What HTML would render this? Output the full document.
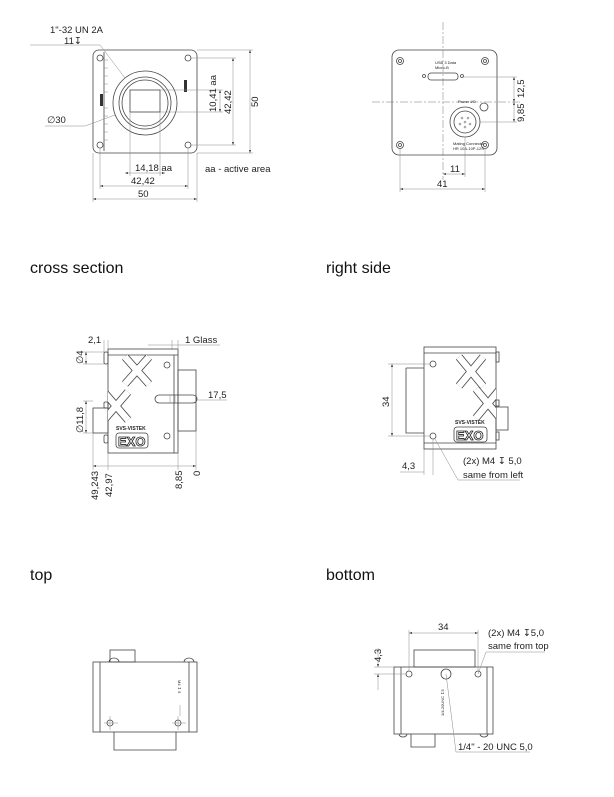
<!DOCTYPE html>
<html><head><meta charset="utf-8"><style>
html,body{margin:0;padding:0;background:#fff}
svg{display:block}
.l{stroke:#444;stroke-width:0.8;fill:none}
.t{stroke:#888;stroke-width:0.5;fill:none}
.c{stroke:#777;stroke-width:0.5;fill:none;stroke-dasharray:8 2 2 2}
.xo{stroke:#444;stroke-width:8;stroke-linecap:butt;fill:none}
.xi{stroke:#fff;stroke-width:6.4;stroke-linecap:butt;fill:none}
text{font-family:"Liberation Sans","DejaVu Sans",sans-serif;fill:#222}
.d{font-size:9.5px}
.h{font-size:16px;fill:#111}
.s{font-size:4px}
</style></head><body>
<svg width="614" height="797" viewBox="0 0 614 797" xmlns="http://www.w3.org/2000/svg">
<defs><marker id="a" viewBox="0 0 6 4" refX="6" refY="2" markerWidth="6" markerHeight="4" orient="auto-start-reverse"><path d="M0,0L6,2L0,4z" fill="#333"/></marker>
<clipPath id="cs"><rect x="108" y="355" width="66" height="98"/></clipPath>
<clipPath id="rs"><rect x="424" y="353" width="72" height="90"/></clipPath>
</defs>

<!-- FRONT -->
<rect class="l" x="93" y="50" width="104" height="103" rx="6"/>
<line class="l" x1="104" y1="52" x2="104" y2="151"/>
<g class="t"><line x1="104" y1="60" x2="108" y2="60"/><line x1="104" y1="68" x2="108" y2="68"/><line x1="104" y1="76" x2="108" y2="76"/><line x1="104" y1="84" x2="108" y2="84"/><line x1="104" y1="92" x2="108" y2="92"/><line x1="104" y1="108" x2="108" y2="108"/><line x1="104" y1="116" x2="108" y2="116"/><line x1="104" y1="124" x2="108" y2="124"/><line x1="104" y1="132" x2="108" y2="132"/><line x1="104" y1="140" x2="108" y2="140"/></g>
<rect x="100" y="94" width="3" height="12" fill="#333"/>
<rect x="184" y="80" width="3" height="12" fill="#333"/>
<circle class="l" cx="145" cy="103" r="32"/>
<circle class="l" cx="145" cy="103" r="26"/>
<circle class="l" cx="145" cy="103" r="23"/>
<rect class="l" x="130" y="90" width="30" height="22"/>
<g class="l"><circle cx="100" cy="58" r="3"/><circle cx="188" cy="58" r="3"/><circle cx="100" cy="145" r="3"/><circle cx="188" cy="145" r="3"/></g>
<g class="t">
<line x1="197" y1="50" x2="253" y2="50"/><line x1="197" y1="153" x2="253" y2="153"/>
<line x1="190" y1="58" x2="236" y2="58"/><line x1="190" y1="145" x2="236" y2="145"/>
<line x1="160" y1="90" x2="223" y2="90"/><line x1="160" y1="112" x2="223" y2="112"/>
<line x1="130" y1="112" x2="130" y2="176"/><line x1="160" y1="112" x2="160" y2="176"/>
<line x1="100" y1="148" x2="100" y2="189"/><line x1="188" y1="148" x2="188" y2="189"/>
<line x1="93" y1="153" x2="93" y2="202"/><line x1="197" y1="153" x2="197" y2="202"/>
<line x1="30" y1="45" x2="100" y2="45"/><line x1="100" y1="45" x2="125" y2="78"/>
<line x1="45" y1="126" x2="85" y2="126"/><line x1="85" y1="126" x2="115" y2="115"/>
</g>
<g class="t" marker-start="url(#a)" marker-end="url(#a)">
<line x1="250" y1="50" x2="250" y2="153"/><line x1="233" y1="58" x2="233" y2="145"/>
<line x1="220" y1="90" x2="220" y2="112"/>
<line x1="125" y1="173" x2="165" y2="173"/><line x1="100" y1="186" x2="188" y2="186"/><line x1="93" y1="199" x2="197" y2="199"/>
</g>
<text class="d" x="50" y="33">1"-32 UN 2A</text>
<text class="d" x="64" y="44">11↧</text>
<text class="d" x="47" y="123">∅30</text>
<text class="d" x="135" y="171">14,18 aa</text>
<text class="d" x="131" y="184">42,42</text>
<text class="d" x="138" y="197">50</text>
<text class="d" x="205" y="172">aa - active area</text>
<text class="d" transform="translate(216,112) rotate(-90)">10,41 aa</text>
<text class="d" transform="translate(231,114) rotate(-90)">42,42</text>
<text class="d" transform="translate(258,107) rotate(-90)">50</text>

<!-- REAR -->
<rect class="l" x="392" y="50" width="105" height="105" rx="7"/>
<line class="c" x1="443" y1="22" x2="443" y2="180"/>
<line class="c" x1="372" y1="102" x2="520" y2="102"/>
<g class="l"><circle cx="400" cy="61" r="3.5"/><circle cx="485" cy="61" r="3.5"/><circle cx="400" cy="145" r="3.5"/><circle cx="485" cy="145" r="3.5"/>
<circle cx="400" cy="61" r="1.5"/><circle cx="485" cy="61" r="1.5"/><circle cx="400" cy="145" r="1.5"/><circle cx="485" cy="145" r="1.5"/>
<rect x="428" y="73" width="30" height="7" rx="3"/><circle cx="424" cy="76" r="1.5"/><circle cx="462" cy="76" r="1.5"/>
<circle cx="465" cy="122" r="15"/><circle cx="465" cy="122" r="11"/><circle cx="484" cy="107" r="4"/></g>
<g fill="#aaa"><circle cx="462" cy="118" r="1.3"/><circle cx="468" cy="118" r="1.3"/><circle cx="460" cy="124" r="1.3"/><circle cx="465" cy="122" r="1.3"/><circle cx="470" cy="124" r="1.3"/><circle cx="465" cy="127" r="1.3"/></g>
<text class="s" x="435" y="64">USB 3 Data</text><text class="s" x="435" y="69">Micro-B</text>
<text class="s" x="458" y="103">Power I/O</text>
<text class="s" x="453" y="145">Mating Connector</text><text class="s" x="453" y="150">HR 10A-10P-12S</text>
<g class="t"><line x1="462" y1="77" x2="517" y2="77"/><line x1="480" y1="122" x2="517" y2="122"/>
<line x1="465" y1="137" x2="465" y2="177"/><line x1="400" y1="149" x2="400" y2="192"/><line x1="485" y1="149" x2="485" y2="192"/></g>
<g class="t" marker-start="url(#a)" marker-end="url(#a)">
<line x1="514" y1="77" x2="514" y2="102"/><line x1="514" y1="102" x2="514" y2="122"/>
<line x1="443" y1="174" x2="465" y2="174"/><line x1="400" y1="189" x2="485" y2="189"/></g>
<text class="d" x="450" y="172">11</text>
<text class="d" x="437" y="187">41</text>
<text class="d" transform="translate(524,98) rotate(-90)">12,5</text>
<text class="d" transform="translate(524,122) rotate(-90)">9,85</text>

<!-- titles -->
<text class="h" x="30" y="273">cross section</text>
<text class="h" x="326" y="273">right side</text>
<text class="h" x="30" y="580">top</text>
<text class="h" x="326" y="580">bottom</text>

<!-- CROSS SECTION -->
<rect class="l" x="108" y="349" width="70" height="104"/>
<line class="l" x1="108" y1="355" x2="178" y2="355"/>
<line class="l" x1="174" y1="355" x2="174" y2="453"/>
<rect class="l" x="93" y="408" width="15" height="25"/>
<rect class="l" x="104" y="352" width="4" height="12" rx="1.5"/>
<rect class="l" x="104" y="402" width="4" height="6" rx="1"/>
<rect class="l" x="104" y="435" width="4" height="8" rx="1.5"/>
<rect class="l" x="178" y="370" width="18" height="61"/>
<g clip-path="url(#cs)">
<path class="xo" d="M125,357 L149,384 M149,357 L125,384 M104,392 L128,420 M128,392 L104,420"/>
<path class="xi" d="M125,357 L149,384 M149,357 L125,384 M104,392 L128,420 M128,392 L104,420"/>
</g>
<rect class="l" x="155" y="395" width="42" height="8" rx="4"/>
<line class="t" x1="170" y1="395" x2="170" y2="403"/><line class="t" x1="175" y1="395" x2="175" y2="403"/>
<g class="l"><circle cx="167" cy="365" r="3"/><circle cx="167" cy="436" r="3"/></g>
<text x="116" y="430" style="font-size:5px;font-weight:bold">SVS-VISTEK</text>
<rect class="l" x="116" y="433" width="32" height="15" rx="3"/>
<text x="118" y="446" style="font-size:13px;font-weight:bold;fill:#fff;stroke:#222;stroke-width:0.8">EXO</text>
<g class="t"><line x1="108" y1="340" x2="108" y2="349"/><line x1="104" y1="340" x2="104" y2="352"/>
<line x1="172" y1="340" x2="172" y2="350"/><line x1="178" y1="340" x2="178" y2="350"/>
<line x1="148" y1="345" x2="220" y2="345"/>
<line x1="83" y1="352" x2="104" y2="352"/><line x1="83" y1="364" x2="104" y2="364"/>
<line x1="83" y1="401" x2="93" y2="401"/><line x1="83" y1="433" x2="93" y2="433"/>
<line x1="93" y1="433" x2="93" y2="470"/><line x1="108" y1="453" x2="108" y2="470"/><line x1="178" y1="453" x2="178" y2="470"/><line x1="196" y1="431" x2="196" y2="470"/>
<line x1="197" y1="400" x2="227" y2="400"/></g>
<g class="t" marker-start="url(#a)" marker-end="url(#a)">
<line x1="86" y1="352" x2="86" y2="364"/><line x1="86" y1="401" x2="86" y2="433"/>
<line x1="93" y1="466" x2="196" y2="466"/></g>
<text class="d" x="88" y="343">2,1</text>
<text class="d" x="185" y="343">1 Glass</text>
<text class="d" x="208" y="398">17,5</text>
<text class="d" transform="translate(83,364) rotate(-90)">∅4</text>
<text class="d" transform="translate(83,433) rotate(-90)">∅11,8</text>
<text class="d" transform="translate(98,500) rotate(-90)">49,243</text>
<text class="d" transform="translate(112,497) rotate(-90)">42,97</text>
<text class="d" transform="translate(182,489) rotate(-90)">8,85</text>
<text class="d" transform="translate(200,476) rotate(-90)">0</text>

<!-- RIGHT SIDE -->
<rect class="l" x="424" y="347" width="72" height="102"/>
<line class="l" x1="424" y1="353" x2="496" y2="353"/><line class="l" x1="424" y1="443" x2="496" y2="443"/>
<path class="l" d="M406,368 L424,368 M406,368 L406,433 L424,433"/>
<rect class="l" x="496" y="407" width="12" height="23"/>
<rect class="l" x="496" y="352" width="3" height="10"/><rect class="l" x="496" y="400" width="3" height="6"/><rect class="l" x="496" y="432" width="3" height="8"/>
<g clip-path="url(#rs)">
<path class="xo" d="M459,357 L483,386 M483,357 L459,386 M476,389 L500,418 M500,389 L476,418"/>
<path class="xi" d="M459,357 L483,386 M483,357 L459,386 M476,389 L500,418 M500,389 L476,418"/>
</g>
<g class="l"><circle cx="433" cy="364" r="3"/><circle cx="433" cy="436" r="3"/></g>
<text x="455" y="424" style="font-size:5px;font-weight:bold">SVS-VISTEK</text>
<rect class="l" x="454" y="427" width="33" height="15" rx="3"/>
<text x="456" y="440" style="font-size:13px;font-weight:bold;fill:#fff;stroke:#222;stroke-width:0.8">EXO</text>
<g class="t"><line x1="388" y1="364" x2="430" y2="364"/><line x1="388" y1="436" x2="430" y2="436"/>
<line x1="424" y1="449" x2="424" y2="475"/><line x1="433" y1="439" x2="433" y2="475"/>
<line x1="400" y1="472" x2="424" y2="472"/>
<line x1="435" y1="439" x2="458" y2="480"/><line x1="458" y1="480" x2="520" y2="480"/></g>
<g class="t" marker-start="url(#a)" marker-end="url(#a)"><line x1="392" y1="364" x2="392" y2="436"/></g>
<text class="d" transform="translate(389,407) rotate(-90)">34</text>
<text class="d" x="402" y="469">4,3</text>
<text class="d" x="463" y="464">(2x) M4 ↧ 5,0</text>
<text class="d" x="463" y="478">same from left</text>

<!-- TOP -->
<rect class="l" x="93" y="662" width="104" height="70"/>
<line class="l" x1="100" y1="662" x2="100" y2="732"/><line class="l" x1="189" y1="662" x2="189" y2="732"/>
<rect class="l" x="110" y="650" width="25" height="12"/>
<path class="l" d="M109,662 a5,4 0 0 1 10,0 M184,662 a5,4 0 0 1 10,0"/>
<path class="l" d="M114,732 L114,750 L176,750 L176,732"/>
<g class="l"><circle cx="110" cy="723" r="3"/><circle cx="178" cy="723" r="3"/></g>
<g class="t"><line x1="104" y1="723" x2="118" y2="723"/><line x1="110" y1="716" x2="110" y2="730"/><line x1="172" y1="723" x2="186" y2="723"/><line x1="178" y1="716" x2="178" y2="730"/><line x1="180" y1="705" x2="180" y2="716"/></g>
<text class="s" transform="translate(178,680) rotate(90)">M4 ↧ 5</text>

<!-- BOTTOM -->
<rect class="l" x="394" y="667" width="99" height="67"/>
<line class="l" x1="401" y1="667" x2="401" y2="734"/><line class="l" x1="487" y1="667" x2="487" y2="734"/>
<rect class="l" x="414" y="650" width="61" height="17"/>
<path class="l" d="M399,734 a4,3 0 0 0 8,0 M480,734 a4,3 0 0 0 8,0"/>
<path class="l" d="M411,734 L411,747 L435,747 L435,734"/>
<g class="l"><circle cx="409" cy="674" r="3"/><circle cx="478" cy="674" r="3"/><circle cx="446" cy="674" r="5"/></g>
<g class="t"><line x1="409" y1="630" x2="409" y2="671"/><line x1="478" y1="630" x2="478" y2="671"/>
<line x1="374" y1="667" x2="394" y2="667"/><line x1="374" y1="674" x2="406" y2="674"/>
<line x1="446" y1="674" x2="456" y2="752"/><line x1="456" y1="752" x2="530" y2="752"/>
<line x1="478" y1="674" x2="486" y2="652"/><line x1="486" y1="652" x2="545" y2="652"/></g>
<g class="t" marker-start="url(#a)" marker-end="url(#a)"><line x1="409" y1="633" x2="478" y2="633"/></g>
<g class="t" marker-end="url(#a)"><line x1="378" y1="648" x2="378" y2="667"/><line x1="378" y1="690" x2="378" y2="674"/></g>
<text class="d" x="438" y="630">34</text>
<text class="d" x="488" y="636">(2x) M4 ↧5,0</text>
<text class="d" x="488" y="649">same from top</text>
<text class="d" transform="translate(381,662) rotate(-90)">4,3</text>
<text class="s" transform="translate(444,716) rotate(-90)">1/4-20UNC ↧5</text>
<text class="d" x="458" y="750">1/4" - 20 UNC 5,0</text>
</svg>
</body></html>
